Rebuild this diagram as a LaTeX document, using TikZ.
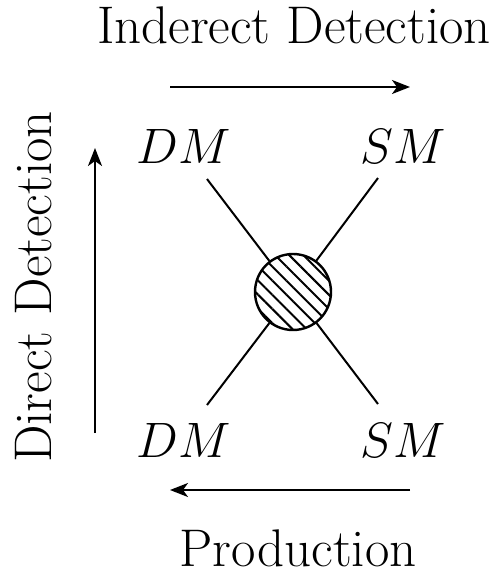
\documentclass[tikz,border=0pt]{standalone}
\usetikzlibrary{arrows.meta,patterns.meta}
\begin{document}
\begin{tikzpicture}[x=0.5pt,y=-0.5pt,
  lab/.style={font=\fontsize{26.5}{30}\selectfont, inner sep=0pt},
  part/.style={font=\fontsize{25}{30}\selectfont, inner sep=0pt},
  leg/.style={line width=1pt},
  flow/.style={line width=1pt,-{Stealth[length=9pt,width=7pt,inset=2.5pt]}}]
\useasboundingbox (0,0) rectangle (497,574);
\node[lab, anchor=base] (ind) at (294,43) {Inderect Detection};
\node[lab, anchor=base] (prod) at (298,566) {Production};
\node[lab, rotate=90, anchor=base] (dir) at (51,287) {Direct Detection};
\node[part] (dm1) at (184,146) {$DM$};
\node[part] (sm1) at (403,146) {$SM$};
\node[part] (dm2) at (184,440) {$DM$};
\node[part] (sm2) at (403,440) {$SM$};
\coordinate (a1) at (207,179);
\coordinate (b1) at (378,404);
\coordinate (a2) at (378,178);
\coordinate (b2) at (207,405);
\node[circle, draw, line width=1.2pt, minimum size=38pt, inner sep=0pt,
  pattern={Lines[angle=-45,distance=5pt,line width=1pt]}] (blob) at (293,292) {};
\draw[leg] (a1) -- (blob);
\draw[leg] (blob) -- (b1);
\draw[leg] (a2) -- (blob);
\draw[leg] (blob) -- (b2);
\coordinate (t1) at (170,87);
\coordinate (t2) at (410,87);
\coordinate (l1) at (95,433);
\coordinate (l2) at (95,148);
\coordinate (p1) at (410,490);
\coordinate (p2) at (170,490);
\draw[flow] (t1) -- (t2);
\draw[flow] (l1) -- (l2);
\draw[flow] (p1) -- (p2);
\end{tikzpicture}
\end{document}
